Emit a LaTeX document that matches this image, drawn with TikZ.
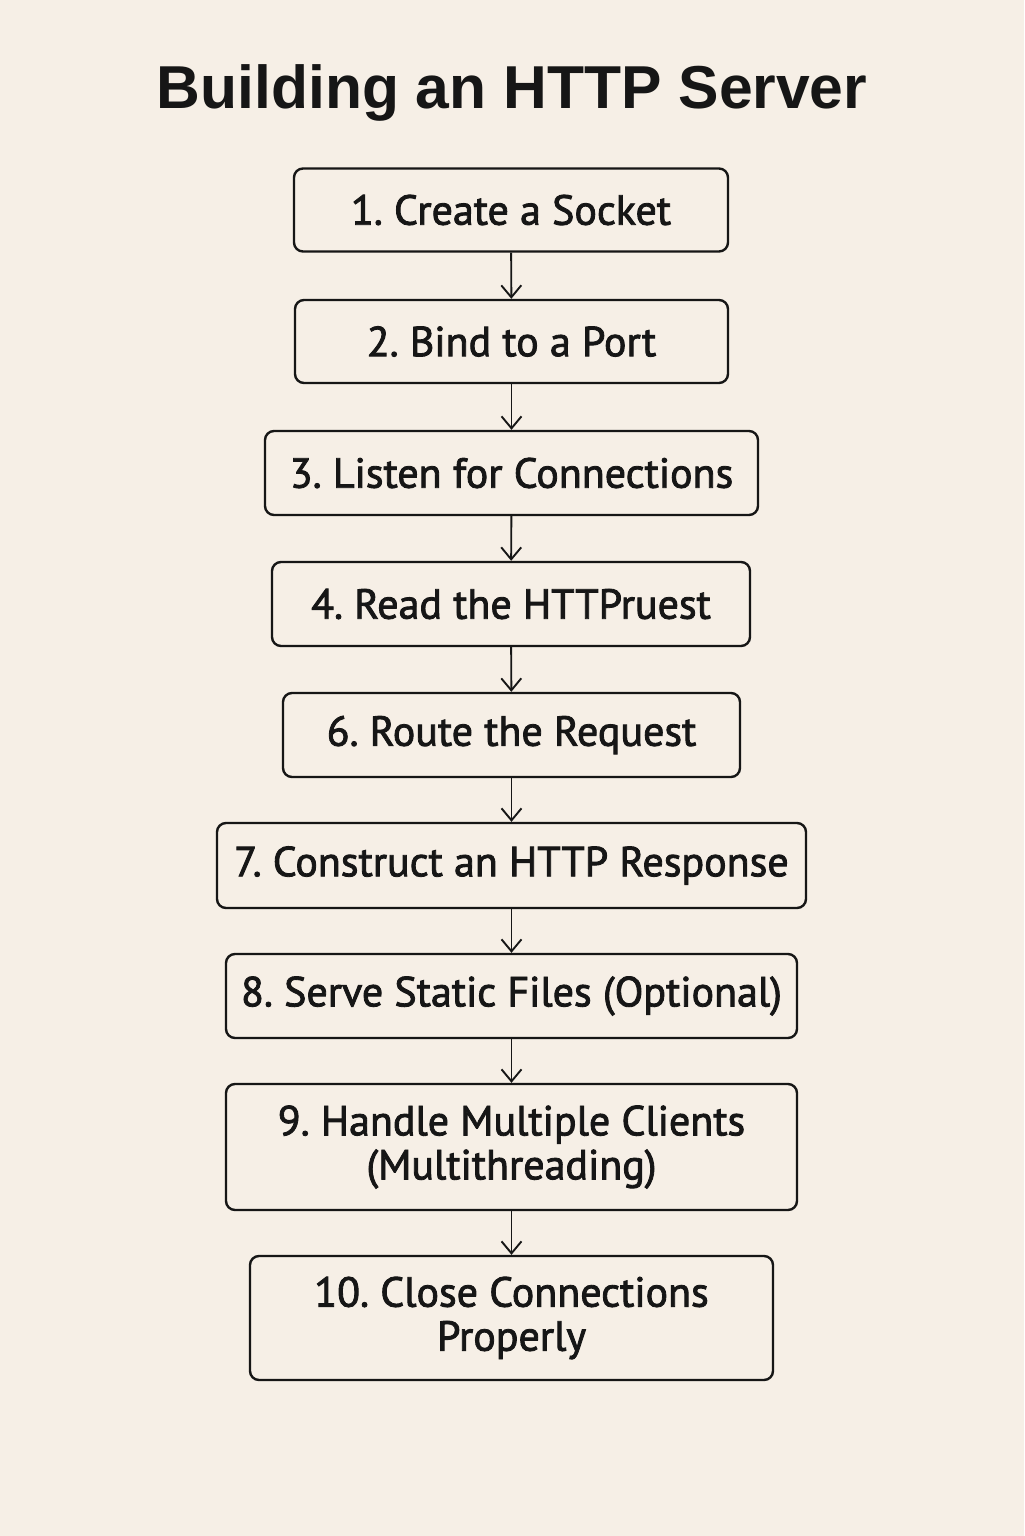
\documentclass[tikz,border=0pt]{standalone}
\usepackage{fontspec}
\setmainfont{PT Sans}
\newfontfamily\boxfont{PT Sans}[FakeBold=2]
\newfontfamily\titlefont{Liberation Sans}
\usetikzlibrary{arrows.meta,positioning}
\definecolor{paper}{HTML}{F6EFE6}
\definecolor{ink}{HTML}{161616}
\frenchspacing
\tikzset{every stage/.style={ % Sets the properties for each box
            draw=ink,
            line width=1.2pt,
            rounded corners=4.5pt,
            inner sep=0pt,
            align=center,
            text=ink,
            font=\boxfont\fontsize{21}{22}\selectfont},
        every link/.style={ % Sets the properties for each arrow
            draw=ink,
            line width=0.95pt,
            -{Straight Barb[length=6pt,width=10pt]}}
        }

\begin{document}
\begin{tikzpicture}[x=0.5pt,y=-0.5pt]
    \fill[paper] (0,0) rectangle (1024,1536);
    \useasboundingbox (0,0) rectangle (1024,1536);
    \node[text=ink, font=\titlefont\bfseries\fontsize{30.3}{34}\selectfont] (title) at (512,93) {Building an HTTP Server};
    \node[every stage, minimum width=217pt, minimum height=41.5pt] (b1) at (511,210) {1. Create a Socket};
    \node[every stage, minimum width=216.5pt, minimum height=41.5pt] (b2) at (511.5,341.5) {2. Bind to a Port};
    \node[every stage, minimum width=246.5pt, minimum height=42pt] (b3) at (511.5,473) {3. Listen for Connections};
    \node[every stage, minimum width=239pt, minimum height=42pt] (b4) at (511,604) {4. Read the HTTPruest};
    \node[every stage, minimum width=228.5pt, minimum height=42pt] (b6) at (511.5,735) {6. Route the Request};
    \node[every stage, minimum width=294.5pt, minimum height=42.5pt] (b7) at (511.5,865.5) {7. Construct an HTTP Response};
    \node[every stage, minimum width=285.5pt, minimum height=42pt] (b8) at (511.5,996) {8. Serve Static Files (Optional)};
    \node[every stage, minimum width=285.5pt, minimum height=63pt] (b9) at (511.5,1147) {9. Handle Multiple Clients\\(Multithreading)};
    \node[every stage, minimum width=261.5pt, minimum height=62pt] (b10) at (511.5,1318) {10. Close Connections\\Properly};
    \foreach \a/\b in {b1/b2,b2/b3,b3/b4,b4/b6,b6/b7,b7/b8,b8/b9,b9/b10}
        \draw[every link] (\a) -- (\b);
\end{tikzpicture}
\end{document}
